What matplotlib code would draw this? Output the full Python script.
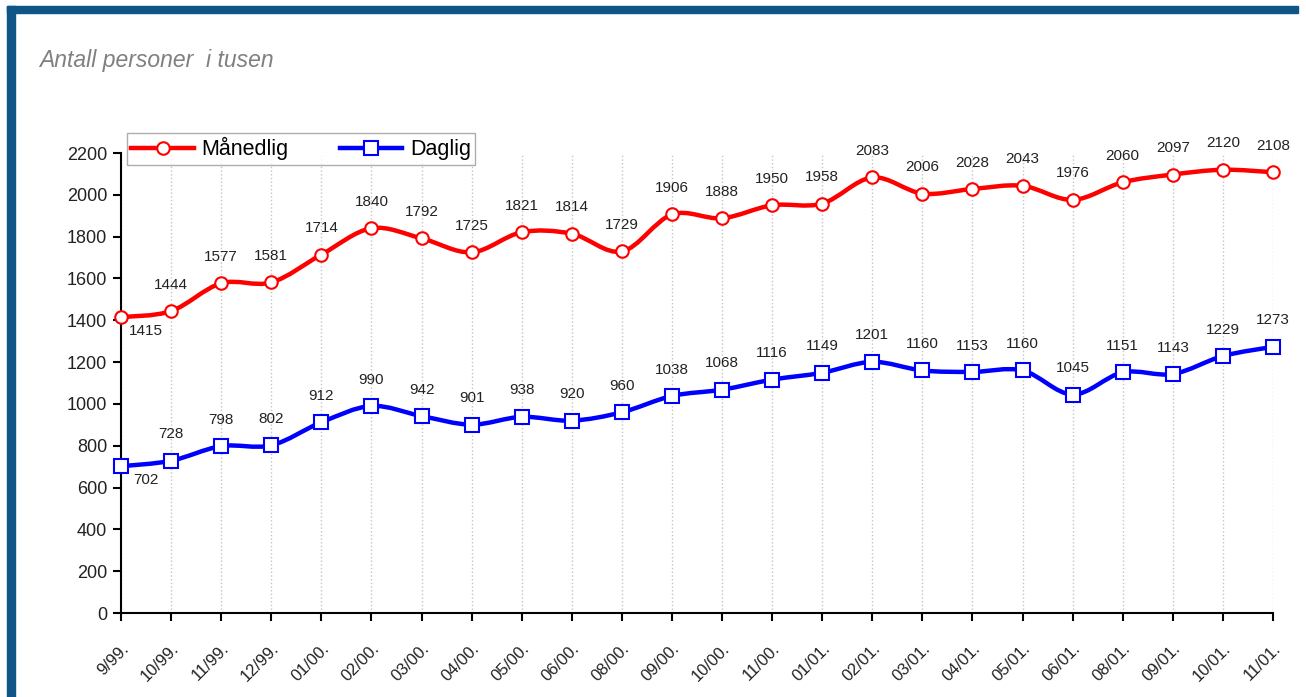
import matplotlib.pyplot as plt
from matplotlib.path import Path
from matplotlib.patches import PathPatch, Rectangle
from matplotlib.lines import Line2D

plt.rcParams['font.family'] = ['Liberation Sans', 'DejaVu Sans']

# Months (x axis) and values in thousands of persons
months = ['9/99.', '10/99.', '11/99.', '12/99.', '01/00.', '02/00.', '03/00.', '04/00.',
          '05/00.', '06/00.', '08/00.', '09/00.', '10/00.', '11/00.', '01/01.', '02/01.',
          '03/01.', '04/01.', '05/01.', '06/01.', '08/01.', '09/01.', '10/01.', '11/01.']
maanedlig = [1415, 1444, 1577, 1581, 1714, 1840, 1792, 1725, 1821, 1814, 1729, 1906,
             1888, 1950, 1958, 2083, 2006, 2028, 2043, 1976, 2060, 2097, 2120, 2108]
daglig = [702, 728, 798, 802, 912, 990, 942, 901, 938, 920, 960, 1038,
          1068, 1116, 1149, 1201, 1160, 1153, 1160, 1045, 1151, 1143, 1229, 1273]
yticks = list(range(0, 2201, 200))


def smooth_path(xs, ys):
    # Excel style smoothed line: cubic bezier segments through every point
    n = len(xs)
    verts = [(xs[0], ys[0])]
    codes = [Path.MOVETO]
    for i in range(n - 1):
        i0 = max(i - 1, 0)
        i3 = min(i + 2, n - 1)
        c1 = (xs[i] + (xs[i + 1] - xs[i0]) / 6, ys[i] + (ys[i + 1] - ys[i0]) / 6)
        c2 = (xs[i + 1] - (xs[i3] - xs[i]) / 6, ys[i + 1] - (ys[i3] - ys[i]) / 6)
        verts += [c1, c2, (xs[i + 1], ys[i + 1])]
        codes += [Path.CURVE4] * 3
    return Path(verts, codes)


fig = plt.figure(figsize=(13.06, 6.97), dpi=100)

# dark blue frame on top and left
frame_col = '#0f5585'
fig.patches.append(Rectangle((7 / 1306, 1 - 13 / 697), 1291 / 1306, 7 / 697,
                             transform=fig.transFigure, color=frame_col, zorder=0))
fig.patches.append(Rectangle((7 / 1306, 0), 8 / 1306, 1 - 6 / 697,
                             transform=fig.transFigure, color=frame_col, zorder=0))

fig.text(39 / 1306, 1 - 61 / 697, 'Antall personer  i tusen', fontsize=16.5,
         style='italic', color='#808080', va='center')

ax = fig.add_axes([121 / 1306, 1 - 613 / 697, 1152 / 1306, 460 / 697])
x = list(range(len(months)))

series = [(maanedlig, 'red', 'o', 9, 'Månedlig'), (daglig, 'blue', 's', 10, 'Daglig')]
for vals, col, mk, ms, name in series:
    ax.add_patch(PathPatch(smooth_path(x, vals), fill=False, edgecolor=col, lw=3.2,
                           zorder=3, clip_on=False))
    ax.plot(x, vals, linestyle='none', marker=mk, ms=ms, mfc='white', mec=col,
            mew=1.5, zorder=4, clip_on=False)
    for i, v in enumerate(vals):
        if i == 0:
            ax.annotate(str(v), (i, v), xytext=(18, -10), textcoords='offset points',
                        ha='center', va='center', fontsize=11, color='#222222')
        else:
            ax.annotate(str(v), (i, v), xytext=(0, 19), textcoords='offset points',
                        ha='center', va='center', fontsize=11, color='#222222',
                        annotation_clip=False)

ax.set_xlim(0, len(months) - 1)
ax.set_ylim(0, 2200)
ax.set_yticks(yticks)
ax.set_yticklabels([str(t) for t in yticks], fontsize=13, color='#222222')
ax.set_xticks(x)
ax.set_xticklabels(months, rotation=45, ha='right', va='top', rotation_mode='anchor',
                   fontsize=12, color='#222222')
ax.tick_params(axis='both', direction='out', length=6, width=1.5, pad=4)
ax.tick_params(axis='x', pad=14)
ax.grid(axis='x', color='#c4c4c4', linestyle=':', lw=1)
ax.set_axisbelow(True)
for s in ['top', 'right']:
    ax.spines[s].set_visible(False)
for s in ['left', 'bottom']:
    ax.spines[s].set_linewidth(1.5)

handles = [Line2D([], [], color='red', lw=3.2, marker='o', ms=9, mfc='white', mec='red', mew=1.5),
           Line2D([], [], color='blue', lw=3.2, marker='s', ms=10, mfc='white', mec='blue', mew=1.5)]
leg = ax.legend(handles, ['Månedlig', 'Daglig'], ncol=2, loc='upper left',
                bbox_to_anchor=(6 / 1152, 1 + 20 / 460), fontsize=15.5, frameon=True,
                fancybox=False, edgecolor='#999999', handlelength=2.9,
                columnspacing=2.4, borderpad=0.2, handletextpad=0.35, borderaxespad=0)
leg.get_frame().set_linewidth(1)
leg.set_zorder(5)

fig.savefig('out.png', dpi=100)
